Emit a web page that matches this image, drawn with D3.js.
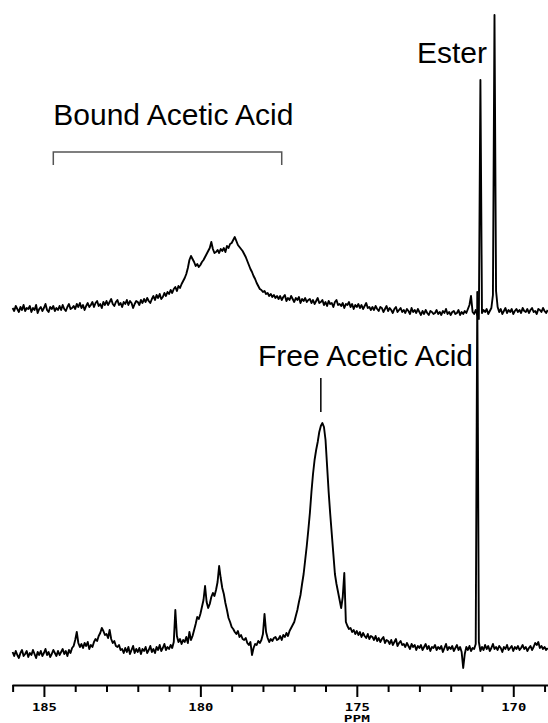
<!DOCTYPE html>
<html>
<head>
<meta charset="utf-8">
<script src="https://cdn.jsdelivr.net/npm/d3@7"></script>
<style>
body { margin: 0; background: #fff; }
</style>
</head>
<body>
<div id="chart"></div>
<script>
var ppmStart = 186.0;
var ppmStep = 0.05;

// upper spectrum, intensity (arbitrary units)
var upperTrace = [
  3, 0, 5, 2, -1, 4, 1, 6, 0, 3,
  2, 5, -1, 3, 1, 6, -2, 2, 4, 0,
  3, 7, 1, -1, 4, 2, 5, 0, 3, 1,
  5, 1, 6, 2, 0, 4, 7, 2, 3, 5,
  2, 7, 4, 8, 3, 6, 1, 5, 8, 4,
  6, 9, 4, 8, 10, 5, 7, 3, 9, 6,
  10, 6, 9, 12, 7, 5, 9, 11, 6, 8,
  4, 9, 7, 11, 6, 10, 8, 3, 7, 10,
  9, 6, 11, 8, 12, 9, 13, 10, 8, 12,
  15, 11, 16, 13, 17, 12, 14, 18, 15, 19,
  17, 21, 18, 22, 24, 20, 25, 23, 27, 30,
  33, 37, 43, 51, 55, 52, 49, 45, 47, 44,
  46, 49, 51, 54, 57, 60, 63, 69, 62, 58,
  59, 61, 58, 62, 60, 63, 59, 65, 63, 67,
  68, 71, 74, 70, 66, 64, 62, 60, 57, 54,
  50, 46, 42, 39, 35, 32, 28, 25, 22, 21,
  19, 20, 17, 18, 15, 17, 14, 16, 13, 15,
  12, 15, 11, 14, 16, 10, 13, 11, 15, 12,
  9, 13, 11, 14, 8, 12, 10, 13, 9, 11,
  12, 8, 11, 7, 10, 13, 8, 9, 11, 6,
  9, 5, 10, 7, 8, 4, 9, 11, 6, 7,
  5, 8, 3, 7, 6, 9, 4, 7, 2, 6,
  4, 7, 3, 6, 2, 5, 8, 3, 4, 1,
  4, 1, 5, 2, 0, 4, 3, -1, 2, 5,
  0, 3, 1, -2, 2, 4, -1, 1, 3, -1,
  1, -2, 2, 0, -3, 3, -1, 1, -2, 2,
  -1, -4, 0, -3, 1, -2, -4, 0, -1, -3,
  -2, 1, -3, -1, -4, 0, -2, 2, -3, -1,
  -4, -1, 0, -3, -2, 1, -4, -1, -3, 0,
  -2, 2, 6, 15, -1, -3, 1, -4, -8, 231,
  -2, 1, -1, 2, -3, 0, 3, 16, 296, 20,
  4, -1, 2, -3, 0, 3, -2, 1, -1, 2,
  -3, 0, 2, -1, 1, -2, 3, 0, -1, 2,
  -2, 1, 3, -1, 0, -3, 2, 1, -1, 3,
  0, -2, 1
];

// lower spectrum, intensity (arbitrary units)
var lowerTrace = [
  0, -4, 1, -3, -6, -1, 2, -4, -2, 1,
  -5, -1, -3, 2, -2, -6, 0, -3, 1, -4,
  -1, 3, -3, 0, -5, -2, 2, -1, -4, 1,
  -3, 0, 3, -2, 1, -4, 2, -1, 4, 6,
  12, 20, 9, 5, 8, 4, 9, 6, 10, 3,
  7, 5, 10, 13, 11, 16, 19, 24, 21, 17,
  18, 14, 22, 13, 9, 11, 6, 5, 7, 2,
  3, -1, 4, 0, 5, -2, 2, 6, -1, 3,
  0, 4, -2, 3, 1, 5, -1, 2, 6, 0,
  3, -1, 5, 2, 7, 1, 4, 8, 2, 5,
  3, 7, 4, 10, 42, 16, 10, 13, 8, 12,
  10, 15, 9, 20, 12, 16, 22, 28, 35, 33,
  38, 45, 52, 66, 50, 44, 48, 55, 59, 56,
  62, 70, 86, 74, 64, 58, 49, 42, 34, 30,
  25, 23, 20, 18, 21, 15, 17, 13, 12, 14,
  9, 7, 10, -3, 4, 8, 7, 11, 9, 12,
  18, 38, 20, 14, 10, 13, 11, 14, 15, 12,
  13, 16, 12, 17, 15, 19, 16, 21, 24, 27,
  30, 36, 42, 50, 57, 68, 78, 92, 106, 122,
  139, 160, 178, 192, 202, 210, 220, 226, 229, 225,
  212, 186, 160, 138, 118, 98, 78, 68, 60, 52,
  44, 55, 79, 30, 26, 23, 24, 20, 22, 18,
  21, 17, 20, 15, 19, 16, 14, 18, 13, 16,
  15, 12, 16, 11, 14, 10, 13, 15, 9, 12,
  11, 8, 12, 7, 10, 13, 6, 9, 11, 7,
  8, 5, 9, 6, 3, 8, 5, 7, 2, 6,
  4, 7, 2, 5, 8, 3, 6, 1, 5, 4,
  7, 2, 5, 3, 6, 0, 4, 8, 2, 5,
  3, 6, 1, 4, 7, 2, 5, 0, -16, -2,
  5, 2, 6, 1, 4, 3, 8, 360, 10, 1,
  5, 2, 7, 3, 6, 1, 4, 8, 3, 5,
  2, 6, 4, 0, 5, 3, 7, 2, 4, 6,
  1, 5, 3, 6, 2, 4, 7, 3, 5, 1,
  4, 6, 2, 5, 9, 7, 10, 4, 6, 3,
  5, 2, 4
];

var majorTicks = [185, 180, 175, 170];
var minorTicks = [186, 184, 183, 182, 181, 179, 178, 177, 176, 174, 173, 172, 171, 169];
var axisTitle = "PPM";

// annotation texts and the ppm they refer to
var boundLabel = "Bound Acetic Acid";
var boundRange = [184.7, 177.4];
var freeLabel = "Free Acetic Acid";
var freePpm = 176.15;
var esterLabel = "Ester";

var width = 548, height = 723;

var svg = d3.select('#chart').append('svg')
    .attr('width', width)
    .attr('height', height);

var x = d3.scaleLinear()
    .domain([186.02, 168.89])
    .range([12, 548]);

// each spectrum has its own baseline
var yUpper = d3.scaleLinear().domain([0, 300]).range([311, 11]);
var yLower = d3.scaleLinear().domain([0, 300]).range([652, 352]);

function toPoints(trace) {
    return trace.map(function(v, i) { return [ppmStart - i * ppmStep, v]; });
}

function drawTrace(trace, y) {
    var line = d3.line()
        .x(function(d) { return x(d[0]); })
        .y(function(d) { return y(d[1]); });
    svg.append('path')
        .datum(toPoints(trace))
        .attr('fill', 'none')
        .attr('stroke', '#000')
        .attr('stroke-width', 1.9)
        .attr('stroke-linejoin', 'round')
        .attr('d', line);
}

drawTrace(upperTrace, yUpper);
drawTrace(lowerTrace, yLower);

// axis
var axisY = 685;

var minorAxis = svg.append('g')
    .attr('transform', 'translate(0,' + axisY + ')')
    .call(d3.axisBottom(x).tickValues(minorTicks).tickSize(7).tickSizeOuter(0).tickFormat(''));

var majorAxis = svg.append('g')
    .attr('transform', 'translate(0,' + axisY + ')')
    .call(d3.axisBottom(x).tickValues(majorTicks).tickSize(12).tickSizeOuter(0).tickFormat(d3.format('d')));

svg.selectAll('.domain').attr('stroke', '#000').attr('stroke-width', 2);
svg.selectAll('.tick line').attr('stroke', '#000').attr('stroke-width', 2);
minorAxis.select('.domain').remove();

majorAxis.selectAll('.tick text')
    .attr('y', 26)
    .attr('dy', null)
    .attr('fill', '#000')
    .attr('font-family', 'DejaVu Sans Mono')
    .attr('font-weight', 'bold')
    .attr('font-size', 11)
    .attr('textLength', 25)
    .attr('lengthAdjust', 'spacingAndGlyphs');

svg.append('text')
    .attr('x', x(175))
    .attr('y', 722)
    .attr('text-anchor', 'middle')
    .attr('font-family', 'DejaVu Sans Mono')
    .attr('font-weight', 'bold')
    .attr('font-size', 8)
    .attr('textLength', 26)
    .attr('lengthAdjust', 'spacingAndGlyphs')
    .text(axisTitle);

// annotations
var labelFont = 'Liberation Sans, Arial, sans-serif';

svg.append('text')
    .attr('x', x(boundRange[0]))
    .attr('y', 125)
    .attr('font-family', labelFont)
    .attr('font-size', 30)
    .text(boundLabel);

svg.append('path')
    .attr('fill', 'none')
    .attr('stroke', '#555')
    .attr('stroke-width', 1.5)
    .attr('d', 'M' + x(boundRange[0]) + ',165V152H' + x(boundRange[1]) + 'V165');

svg.append('text')
    .attr('x', 487)
    .attr('y', 63)
    .attr('text-anchor', 'end')
    .attr('font-family', labelFont)
    .attr('font-size', 30)
    .text(esterLabel);

svg.append('text')
    .attr('x', 473)
    .attr('y', 366)
    .attr('text-anchor', 'end')
    .attr('font-family', labelFont)
    .attr('font-size', 30)
    .text(freeLabel);

svg.append('line')
    .attr('x1', x(freePpm)).attr('x2', x(freePpm))
    .attr('y1', 378).attr('y2', 412)
    .attr('stroke', '#000')
    .attr('stroke-width', 1.5);
</script>
</body>
</html>
